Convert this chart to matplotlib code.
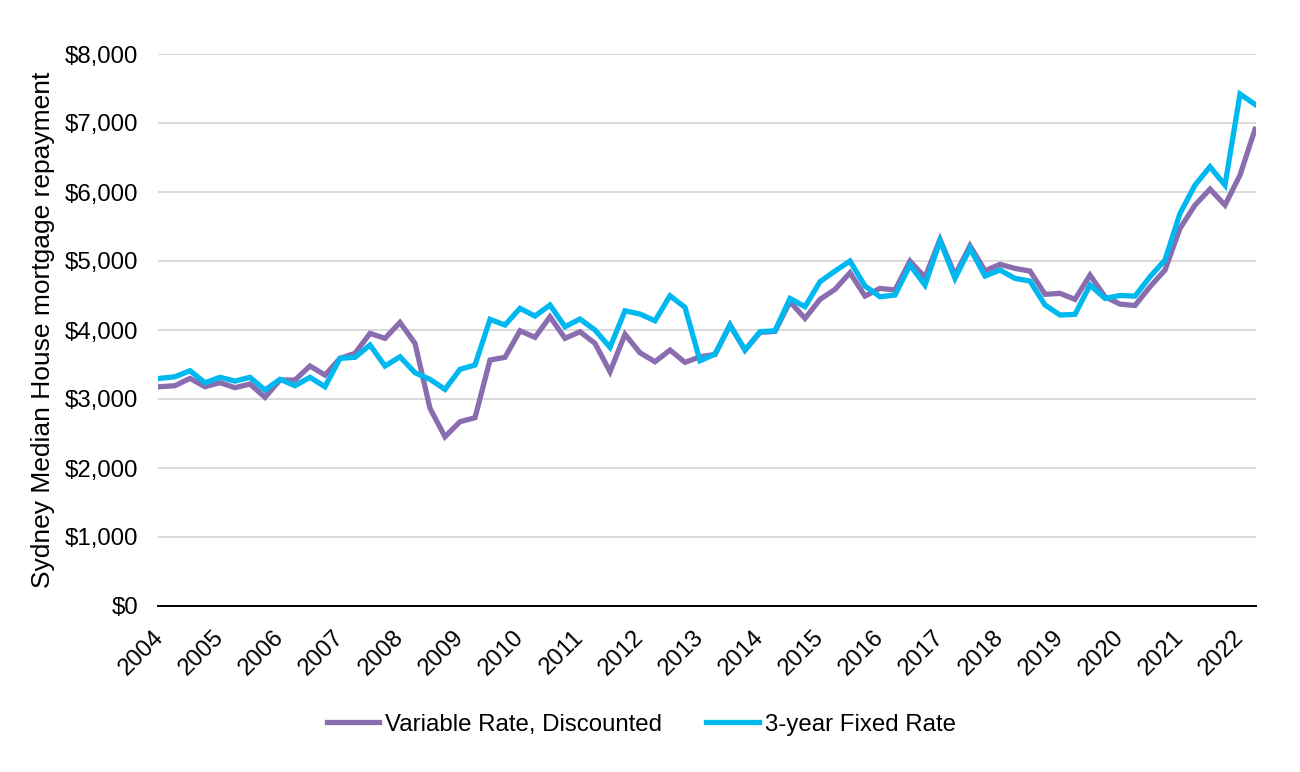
import matplotlib.pyplot as plt
import numpy as np

plt.rcParams['font.family'] = ['Liberation Sans', 'DejaVu Sans']

# quarterly values, 2004 Q1 .. 2022 Q2
anos = list(range(2004, 2023))

variavel_desconto = [
    3178, 3193, 3299, 3178, 3236, 3164, 3217, 3024,
    3275, 3275, 3478, 3347, 3589, 3662, 3951, 3879,
    4110, 3806, 2865, 2453, 2671, 2729, 3565, 3604,
    3989, 3893, 4192, 3879, 3975, 3806, 3395, 3937,
    3670, 3540, 3709, 3531, 3612, 3645, 4072, 3709,
    3965, 3980, 4410, 4168, 4444, 4589, 4830, 4492,
    4603, 4579, 4999, 4762, 5313, 4796, 5221, 4859,
    4951, 4893, 4854, 4517, 4531, 4444, 4796, 4482,
    4375, 4355, 4627, 4869, 5473, 5810, 6042, 5810,
    6245, 6907,
]

fixa_3anos = [
    3299, 3323, 3410, 3236, 3314, 3260, 3314, 3130,
    3285, 3193, 3314, 3178, 3589, 3604, 3782, 3478,
    3612, 3381, 3285, 3140, 3430, 3492, 4154, 4072,
    4314, 4202, 4362, 4048, 4159, 3999, 3749, 4279,
    4231, 4134, 4496, 4328, 3554, 3651, 4072, 3709,
    3975, 3989, 4457, 4338, 4700, 4854, 4999, 4637,
    4482, 4506, 4941, 4651, 5293, 4748, 5183, 4782,
    4869, 4748, 4709, 4362, 4217, 4227, 4651, 4458,
    4500, 4492, 4772, 5014, 5690, 6100, 6366, 6100,
    7419, 7270,
]

x = np.arange(len(variavel_desconto))

fig = plt.figure(figsize=(13, 7.72), dpi=100)
ax = fig.add_axes([158 / 1300, 1 - 606 / 772, (1256 - 158) / 1300, (606 - 54) / 772])

ax.plot(x, variavel_desconto, color='#8A6DAF', lw=3.8, solid_joinstyle='miter',
        label='Variable Rate, Discounted')
ax.plot(x, fixa_3anos, color='#00B8F0', lw=3.8, solid_joinstyle='miter',
        label='3-year Fixed Rate')

ax.set_ylim(0, 8000)
ax.set_xlim(-2 / 15, 73 + 1 / 15)
ax.set_yticks(range(0, 8001, 1000))
ax.set_yticklabels(['$' + format(v, ',') for v in range(0, 8001, 1000)])
ax.set_xticks(range(0, len(x), 4))
ax.set_xticklabels([str(a) for a in anos], rotation=45, ha='right', va='center',
                   rotation_mode='anchor')

ax.grid(axis='y', color='#D9D9D9', lw=1.4)
ax.set_axisbelow(True)
for s in ['left', 'right', 'top']:
    ax.spines[s].set_visible(False)
ax.spines['bottom'].set_color('black')
ax.spines['bottom'].set_linewidth(1.4)
ax.tick_params(length=0, labelsize=17.3, colors='black')
ax.tick_params(axis='y', pad=14)
ax.tick_params(axis='x', pad=20)

ax.set_ylabel('Sydney Median House mortgage repayment', fontsize=19, labelpad=7)

ax.legend(loc='center', bbox_to_anchor=(0.44, -0.215), ncol=2, frameon=False,
          fontsize=17.3, handlelength=2.2, handletextpad=0.25, columnspacing=1.8)

fig.savefig('out.png', dpi=100)
